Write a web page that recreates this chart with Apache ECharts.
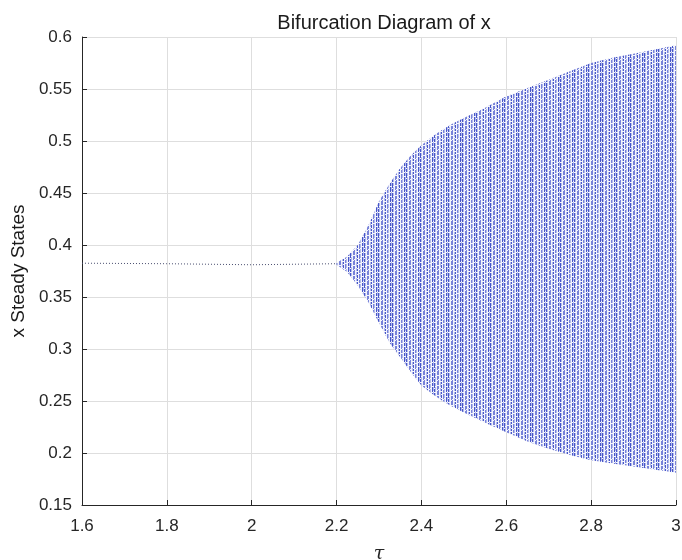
<!DOCTYPE html>
<html>
<head>
<meta charset="utf-8">
<script src="https://cdn.jsdelivr.net/npm/echarts@6/dist/echarts.min.js"></script>
<style>
  html, body { margin: 0; padding: 0; background: #fff; }
  #main { width: 682px; height: 560px; }
</style>
</head>
<body>
<div id="main"></div>
<script>
// steady state before the bifurcation
var tauSteady = [1.6, 1.8, 2.0, 2.2];
var xSteady = [0.3825, 0.382, 0.381, 0.382];

// envelope of the oscillation after the bifurcation
var tauBranch = [2.2, 2.225, 2.25, 2.275, 2.3, 2.325, 2.35, 2.375, 2.4, 2.425, 2.45, 2.475, 2.5, 2.55, 2.6, 2.65, 2.7, 2.75, 2.8, 2.85, 2.9, 3.0];
var xUpper = [0.383, 0.389, 0.400, 0.419, 0.442, 0.459, 0.474, 0.486, 0.496, 0.504, 0.511, 0.517, 0.522, 0.532, 0.543, 0.551, 0.559, 0.567, 0.575, 0.580, 0.584, 0.592];
var xLower = [0.381, 0.374, 0.361, 0.345, 0.325, 0.306, 0.292, 0.278, 0.265, 0.257, 0.250, 0.244, 0.239, 0.229, 0.220, 0.211, 0.204, 0.198, 0.193, 0.190, 0.187, 0.181];

// axis ticks
var tauTicks = [1.6, 1.8, 2.0, 2.2, 2.4, 2.6, 2.8, 3.0];
var xTicks = [0.15, 0.2, 0.25, 0.3, 0.35, 0.4, 0.45, 0.5, 0.55, 0.6];

// striped fill to look like the dense columns of dots
function makeStripes() {
  var c = document.createElement('canvas');
  c.width = 14; c.height = 10;
  var ctx = c.getContext('2d');
  var B = '#4655c9', M = '#7782d9', L = '#b3baea', W = '#f2f3fc';
  var cols = [B, L, W, M, M, W, L, B, W, M, L, W, B, L];
  for (var i = 0; i < cols.length; i++) {
    ctx.fillStyle = cols[i];
    ctx.fillRect(i, 0, 1, c.height);
  }
  var gaps = [[0, 2], [1, 2], [3, 5], [4, 5], [6, 1], [7, 1], [6, 7], [9, 3], [10, 3],
              [10, 8], [12, 6], [13, 6], [0, 8], [3, 0], [7, 4], [13, 1], [1, 6], [9, 9],
              [4, 9], [12, 2], [7, 8]];
  ctx.fillStyle = '#f6f7fd';
  gaps.forEach(function (g) { ctx.fillRect(g[0], g[1], 1, 1); });
  return c;
}
var stripes = { image: makeStripes(), repeat: 'repeat' };

var chart = echarts.init(document.getElementById('main'));
var labelFont = { fontFamily: 'Liberation Sans', fontSize: 17, color: '#262626' };

var option = {
  animation: false,
  backgroundColor: '#ffffff',
  title: {
    text: 'Bifurcation Diagram of x',
    left: 379,
    textAlign: 'center',
    top: 8,
    textStyle: { fontFamily: 'Liberation Sans', fontSize: 20, fontWeight: 'normal', color: '#1a1a1a' }
  },
  grid: { left: 82, right: 6, top: 37, bottom: 55, containLabel: false, outerBoundsMode: 'none' },
  xAxis: {
    type: 'value',
    min: tauTicks[0],
    max: tauTicks[tauTicks.length - 1],
    interval: 0.2,
    name: 'τ',
    nameLocation: 'middle',
    nameGap: 40,
    nameTextStyle: { fontFamily: 'DejaVu Serif', fontStyle: 'italic', fontSize: 19, color: '#262626' },
    axisLine: { show: true, lineStyle: { color: '#262626', width: 1 } },
    axisTick: { show: true, inside: true, length: 5, lineStyle: { color: '#262626' } },
    axisLabel: Object.assign({ margin: 13 }, labelFont),
    splitLine: { show: true, lineStyle: { color: '#dedede', width: 1 } }
  },
  yAxis: {
    type: 'value',
    min: xTicks[0],
    max: xTicks[xTicks.length - 1],
    interval: 0.05,
    name: 'x Steady States',
    nameLocation: 'middle',
    nameGap: 52,
    nameTextStyle: { fontFamily: 'Liberation Sans', fontSize: 19, color: '#1a1a1a' },
    axisLine: { show: true, lineStyle: { color: '#262626', width: 1 } },
    axisTick: { show: true, inside: true, length: 5, lineStyle: { color: '#262626' } },
    axisLabel: Object.assign({ margin: 10 }, labelFont),
    splitLine: { show: true, lineStyle: { color: '#dedede', width: 1 } }
  },
  series: [
    {
      type: 'line',
      data: tauSteady.map(function (t, i) { return [t, xSteady[i]]; }),
      symbol: 'none',
      lineStyle: { color: '#4a4f70', width: 1, type: [1, 2] },
      z: 3
    },
    {
      type: 'custom',
      data: [[tauBranch[0], xUpper[0]]],
      renderItem: function (params, api) {
        var pts = [];
        for (var i = 0; i < tauBranch.length; i++) pts.push(api.coord([tauBranch[i], xUpper[i]]));
        for (var j = tauBranch.length - 1; j >= 0; j--) pts.push(api.coord([tauBranch[j], xLower[j]]));
        return { type: 'polygon', shape: { points: pts }, style: { fill: stripes } };
      },
      z: 2
    }
  ]
};

chart.setOption(option);
</script>
</body>
</html>
